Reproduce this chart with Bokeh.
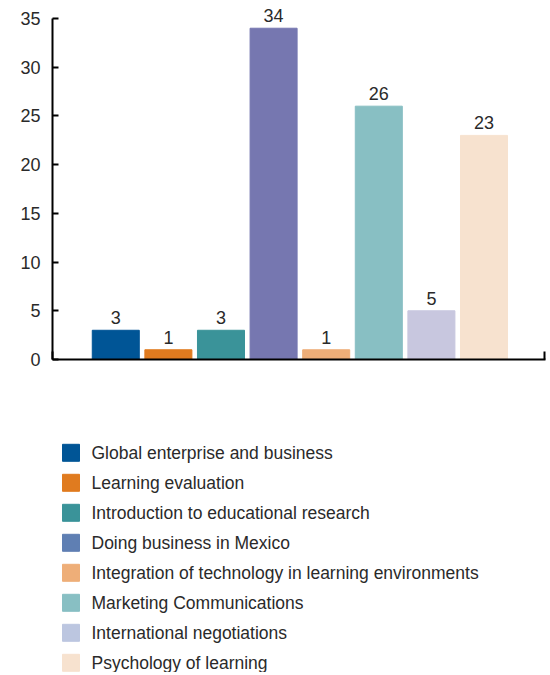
from bokeh.plotting import figure
from bokeh.layouts import column
from bokeh.models import Range1d, FixedTicker, ColumnDataSource
from bokeh.core.properties import value
from bokeh.embed import file_html
from bokeh.resources import INLINE

categories = [
    "Global enterprise and business",
    "Learning evaluation",
    "Introduction to educational research",
    "Doing business in Mexico",
    "Integration of technology in learning environments",
    "Marketing Communications",
    "International negotiations",
    "Psychology of learning",
]
counts = [3, 1, 3, 34, 1, 26, 5, 23]
bar_colors = ["#005596", "#e07b1f", "#3a9399", "#7677b0",
              "#eeae78", "#88bfc3", "#c8c7df", "#f7e2cf"]
legend_colors = ["#005596", "#e07b1f", "#3a9399", "#5f7fb3",
                 "#eeae78", "#88bfc3", "#bcc6e0", "#f7e2cf"]
y_ticks = [0, 5, 10, 15, 20, 25, 30, 35]

FONT = "Liberation Sans"
TXT = "#2a2a2a"

W = 548
LEFT, RIGHT = 52, 3
x_start, x_end = -1.203, 8.169
y_max_axis = 35
y_top = 36.23
xs = list(range(len(categories)))

src = ColumnDataSource(dict(x=xs, top=counts, color=bar_colors,
                            label=[str(c) for c in counts]))

p = figure(width=W, height=400, output_backend="svg", toolbar_location=None,
           x_range=Range1d(x_start, x_end), y_range=Range1d(0, y_top),
           min_border_top=6, min_border_left=LEFT, min_border_right=RIGHT,
           min_border_bottom=41)
p.outline_line_color = None
p.xgrid.visible = False
p.ygrid.visible = False
p.background_fill_color = "white"
p.border_fill_color = "white"

p.vbar(x="x", top="top", width=0.894, bottom=0, color="color", source=src)
p.text(x="x", y="top", text="label", source=src, text_align="center",
       text_baseline="bottom", y_offset=-6, text_font=value(FONT),
       text_font_size="18px", text_color=TXT)

ya = p.yaxis[0]
ya.ticker = FixedTicker(ticks=y_ticks)
ya.bounds = (0, y_max_axis)
ya.major_tick_in = 6
ya.major_tick_out = 0
ya.minor_tick_line_color = None
ya.axis_line_width = 2
ya.major_tick_line_width = 2
ya.axis_line_color = "black"
ya.major_tick_line_color = "black"
ya.major_label_text_font = FONT
ya.major_label_text_font_size = "18px"
ya.major_label_text_color = TXT
ya.major_label_standoff = 12

xa = p.xaxis[0]
xa.ticker = FixedTicker(ticks=[x_start, x_end - 0.01])
xa.major_tick_in = 8
xa.major_tick_out = 0
xa.minor_tick_line_color = None
xa.axis_line_width = 2
xa.major_tick_line_width = 2
xa.axis_line_color = "black"
xa.major_tick_line_color = "black"
xa.major_label_text_font_size = "0px"
xa.major_label_text_alpha = 0

# legend figure (pixel coordinates, y downward)
lh = 272
row0, pitch = 52.3, 30
L = figure(width=W, height=lh, output_backend="svg", toolbar_location=None,
           x_range=Range1d(LEFT, W - RIGHT), y_range=Range1d(lh, 0),
           min_border_left=LEFT, min_border_right=RIGHT,
           min_border_top=0, min_border_bottom=0)
L.axis.visible = False
L.grid.visible = False
L.outline_line_color = None
ly = [row0 + i * pitch for i in range(len(categories))]
lsrc = ColumnDataSource(dict(y=ly, color=legend_colors, label=categories))
L.rect(x=70.5, y="y", width=17, height=17, color="color", source=lsrc)
L.text(x=91, y="y", text="label", source=lsrc, text_baseline="middle",
       text_align="left", text_font=value(FONT), text_font_size="17.5px",
       text_color=TXT)

layout = column(p, L, spacing=0)
open("out.html", "w").write(file_html(layout, INLINE))
